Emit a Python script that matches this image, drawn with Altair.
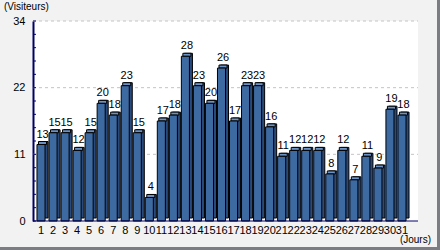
import altair as alt
import pandas as pd

# ---- data ----
days = list(range(1, 32))
visitors = [13, 15, 15, 12, 15, 20, 18, 23, 15, 4, 17, 18, 28, 23, 20, 26,
            17, 23, 23, 16, 11, 12, 12, 12, 8, 12, 7, 11, 9, 19, 18]
y_max = 34
label_values = [0, 34 / 3, 68 / 3, 34]
grid_values = [34 / 3, 68 / 3, 34]
minor_tick_values = [y_max * k / 15 for k in range(16)]
y_title = "(Visiteurs)"
x_title = "(Jours)"

W, H = 385, 200
NAVY = "#000066"
FONT = "Liberation Sans"

df = pd.DataFrame({"day": days, "v": visitors})
grid_df = pd.DataFrame({"v": grid_values})
tick_df = pd.DataFrame({"v": minor_tick_values})
one = pd.DataFrame({"k": [0]})

x_enc = alt.X(
    "day:O",
    scale=alt.Scale(range=[0, 377], paddingInner=0.33, paddingOuter=0.33),
    axis=alt.Axis(title=None, labelAngle=0, domain=False, ticks=False,
                  labelPadding=3, labelFont=FONT, labelFontSize=11,
                  labelColor="black", labelOverlap=False),
)
y_scale = alt.Scale(domain=[0, y_max], nice=False, zero=True)
y_enc = alt.Y(
    "v:Q",
    scale=y_scale,
    axis=alt.Axis(title=None, values=label_values, labelExpr="floor(datum.value)",
                  grid=False, domain=True, domainColor=NAVY, domainWidth=2,
                  ticks=False, labelPadding=8, labelFont=FONT, labelFontSize=11,
                  labelColor="black"),
)

base = alt.Chart(df)

grid = alt.Chart(grid_df).mark_rule(color="#c4c4c4", strokeDash=[3, 3], strokeWidth=1).encode(
    y=y_enc, x=alt.value(0), x2=alt.value(W),
)

minor = alt.Chart(tick_df).mark_rule(color=NAVY, strokeWidth=1).encode(
    y=y_enc, x=alt.value(0), x2=alt.value(3),
)

back = base.mark_bar(color="#2a4a7c", stroke="black", strokeWidth=1,
                     xOffset=3, yOffset=-3, y2Offset=0).encode(x=x_enc, y=y_enc)
top = base.mark_bar(color="#6b93c6", stroke="black", strokeWidth=1,
                    xOffset=1.5, yOffset=-3, y2Offset=0).encode(
    x=x_enc, y=y_enc, y2="v:Q")
front = base.mark_bar(color="#3e6aa2", stroke="black", strokeWidth=1).encode(x=x_enc, y=y_enc)

labels = base.mark_text(baseline="alphabetic", dy=-7, dx=1.5, font=FONT,
                        fontSize=11, color="black").encode(x=x_enc, y=y_enc, text="v:Q")

xaxis_line = alt.Chart(one).mark_rule(color=NAVY, strokeWidth=1).encode(
    y=alt.value(H), x=alt.value(0), x2=alt.value(W))

ytitle = alt.Chart(one).mark_text(text=y_title, align="left", baseline="alphabetic",
                                  font=FONT, fontSize=10, color="black").encode(
    x=alt.value(-29), y=alt.value(-11))
xtitle = alt.Chart(one).mark_text(text=x_title, align="right", baseline="alphabetic",
                                  font=FONT, fontSize=10, color="black").encode(
    x=alt.value(398), y=alt.value(222))

frame_r = alt.Chart(one).mark_rule(color="#7c7c84", strokeWidth=3).encode(
    x=alt.value(405.5), y=alt.value(-21), y2=alt.value(229))
frame_b = alt.Chart(one).mark_rule(color="#7c7c84", strokeWidth=3).encode(
    y=alt.value(227.5), x=alt.value(-33), x2=alt.value(407))

chart = alt.layer(
    grid, back, top, front, labels, minor, xaxis_line, ytitle, xtitle, frame_r, frame_b
).properties(
    width=W, height=H,
    background="#f2f2f2",
    padding={"left": 33, "top": 21, "right": 22, "bottom": 29},
    autosize=alt.AutoSizeParams(type="none"),
).configure_view(fill="white", stroke=None)

chart.save("out.html", embed_options={"renderer": "svg", "actions": False})
